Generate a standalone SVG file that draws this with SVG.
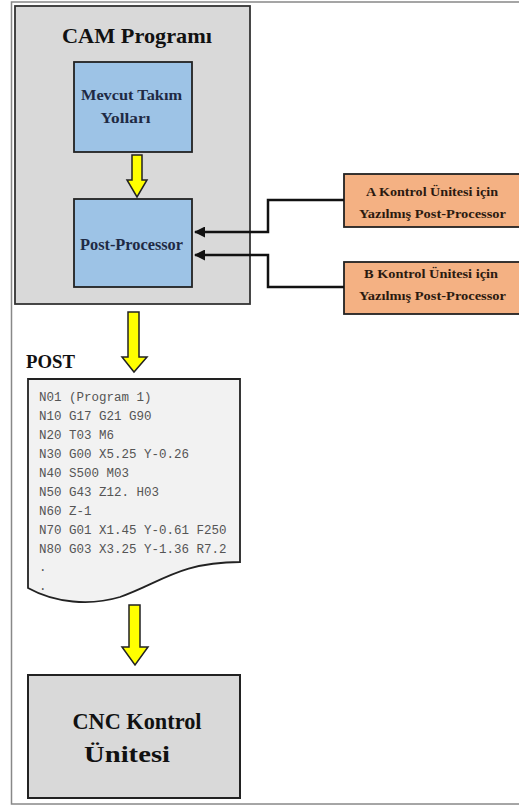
<svg xmlns="http://www.w3.org/2000/svg" width="519" height="807" viewBox="0 0 519 807">
<style>
.t{font-family:"Liberation Serif","Tinos","Times New Roman","DejaVu Serif","Noto Serif",serif;font-weight:bold;text-anchor:middle}
.code{font-family:"Liberation Mono","Courier New",monospace;font-size:12.5px;fill:#555}
.yarrow{fill:#ffff00;stroke:#222;stroke-width:1.5;stroke-linejoin:miter}
.conn{fill:none;stroke:#111;stroke-width:2.5}
</style>
<defs>
<marker id="ah" markerWidth="11" markerHeight="11" refX="10" refY="5.5" orient="auto" markerUnits="userSpaceOnUse">
<path d="M0,0 L11,5.5 L0,11 Z" fill="#111"/>
</marker>
</defs>
<rect width="519" height="807" fill="#fff"/>
<rect x="11.5" y="2" width="520" height="802" fill="none" stroke="#888" stroke-width="1.5"/>

<g id="cam">
<rect x="15" y="6" width="235" height="298" fill="#d9d9d9" stroke="#333" stroke-width="1.8"/>
<text class="t" x="137" y="43" font-size="22" fill="#111" textLength="150" lengthAdjust="spacingAndGlyphs">CAM Programı</text>
</g>

<g id="mevcut">
<rect x="74" y="62" width="118" height="90" fill="#9dc3e6" stroke="#222" stroke-width="1.8"/>
<text class="t" x="131.5" y="100" font-size="15.5" fill="#1f2a44" textLength="101" lengthAdjust="spacingAndGlyphs">Mevcut Takım</text>
<text class="t" x="125.5" y="123" font-size="15.5" fill="#1f2a44" textLength="50" lengthAdjust="spacingAndGlyphs">Yolları</text>
</g>

<g id="postproc">
<rect x="74" y="199" width="118" height="88" fill="#9dc3e6" stroke="#222" stroke-width="1.8"/>
<text class="t" x="131.5" y="250" font-size="16" fill="#1f2a44" textLength="103" lengthAdjust="spacingAndGlyphs">Post-Processor</text>
</g>

<g id="a-post">
<rect x="344" y="174" width="190" height="53" fill="#f4b183" stroke="#222" stroke-width="1.8"/>
<text class="t" x="432" y="196" font-size="13.3" fill="#2b1a10" textLength="132" lengthAdjust="spacingAndGlyphs">A Kontrol Ünitesi için</text>
<text class="t" x="432.5" y="218" font-size="13.3" fill="#2b1a10" textLength="147" lengthAdjust="spacingAndGlyphs">Yazılmış Post-Processor</text>
</g>

<g id="b-post">
<rect x="344" y="262" width="190" height="52" fill="#f4b183" stroke="#222" stroke-width="1.8"/>
<text class="t" x="431" y="278" font-size="13.3" fill="#2b1a10" textLength="134" lengthAdjust="spacingAndGlyphs">B Kontrol Ünitesi için</text>
<text class="t" x="432.5" y="300" font-size="13.3" fill="#2b1a10" textLength="147" lengthAdjust="spacingAndGlyphs">Yazılmış Post-Processor</text>
</g>

<g id="post">
<text class="t" x="50.5" y="368" font-size="19" fill="#111" textLength="49" lengthAdjust="spacingAndGlyphs">POST</text>
<path d="M28,379 L240,379 L240,562 C180,562 160,583 120,597 C90,606 55,603 28,588 Z" fill="#f2f2f2" stroke="#222" stroke-width="1.8"/>
<text class="code" x="39" y="401">N01 (Program 1)</text>
<text class="code" x="39" y="420">N10 G17 G21 G90</text>
<text class="code" x="39" y="439">N20 T03 M6</text>
<text class="code" x="39" y="458">N30 G00 X5.25 Y-0.26</text>
<text class="code" x="39" y="477">N40 S500 M03</text>
<text class="code" x="39" y="496">N50 G43 Z12. H03</text>
<text class="code" x="39" y="515">N60 Z-1</text>
<text class="code" x="39" y="534">N70 G01 X1.45 Y-0.61 F250</text>
<text class="code" x="39" y="553">N80 G03 X3.25 Y-1.36 R7.2</text>
<text class="code" x="39" y="571">.</text>
<text class="code" x="39" y="590">.</text>
</g>

<g id="cnc">
<rect x="28" y="675" width="212" height="123" fill="#d9d9d9" stroke="#222" stroke-width="2"/>
<text class="t" x="137" y="729" font-size="23" fill="#111" textLength="129" lengthAdjust="spacingAndGlyphs">CNC Kontrol</text>
<text class="t" x="127" y="762" font-size="23" fill="#111" textLength="86" lengthAdjust="spacingAndGlyphs">Ünitesi</text>
</g>

<g id="connectors">
<path class="yarrow" d="M132,155 L142,155 L142,180 L147,180 L137,197 L127,180 L132,180 Z"/>
<path class="yarrow" d="M128,312 L139,312 L139,357 L147,357 L134,372 L122,357 L128,357 Z"/>
<path class="yarrow" d="M129,605 L140,605 L140,647 L148,647 L135,665 L122,647 L129,647 Z"/>
<path class="conn" d="M344,200 L268,200 L268,232 L195,232" marker-end="url(#ah)"/>
<path class="conn" d="M344,287 L268,287 L268,255 L195,255" marker-end="url(#ah)"/>
</g>
</svg>
